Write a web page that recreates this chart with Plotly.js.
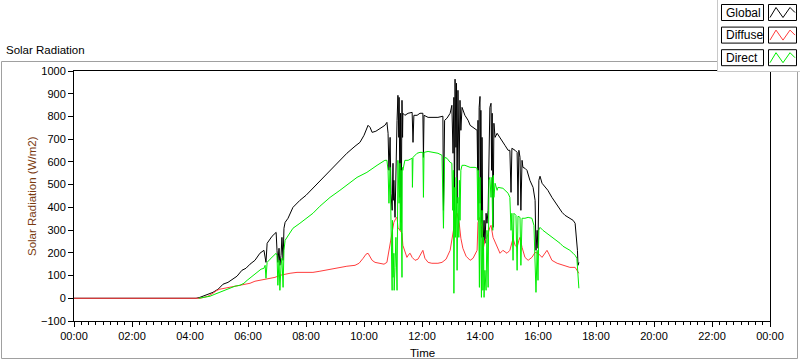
<!DOCTYPE html>
<html>
<head>
<meta charset="utf-8">
<script src="https://cdn.plot.ly/plotly-3.0.1.min.js"></script>
<style>
  html, body { margin: 0; padding: 0; background: #ffffff; }
  #chart { width: 800px; height: 361px; }
</style>
</head>
<body>
<div id="chart"></div>
<script>
// ---------------- DATA (time in hours of day, W/m2) ----------------
const seriesNames = ["Global", "Diffuse", "Direct"];

const globalHours = [0, 4.00, 4.21, 4.34, 4.52, 4.69, 4.79, 4.97, 5.14, 5.31, 5.45, 5.62, 5.79, 5.93, 6.07, 6.24, 6.41, 6.55, 6.62, 6.66, 6.83, 6.97, 7.00, 7.03, 7.07, 7.10, 7.14, 7.17, 7.21, 7.24, 7.28, 7.38, 7.55, 7.79, 8.00, 8.24, 8.48, 8.83, 9.10, 9.41, 9.69, 9.86, 10.00, 10.14, 10.21, 10.28, 10.41, 10.55, 10.72, 10.79,
  10.83, 10.86, 10.90, 10.93, 10.97, 11.00, 11.01, 11.03, 11.07, 11.10, 11.14, 11.17, 11.20, 11.21, 11.24, 11.26, 11.28, 11.31, 11.33, 11.34, 11.41,
  11.52, 11.66, 11.69, 11.72, 11.83, 11.93, 12.03, 12.05, 12.07, 12.21, 12.38, 12.55, 12.72, 12.74, 12.78, 12.86, 12.97, 13.03,
  13.07, 13.10, 13.12, 13.14, 13.17, 13.19, 13.21, 13.24, 13.28, 13.31, 13.34, 13.38,
  13.48, 13.59, 13.66, 13.76, 13.90,
  13.92, 13.93, 13.95, 13.97, 14.00, 14.01, 14.03, 14.06, 14.07, 14.10, 14.14, 14.17, 14.21, 14.24, 14.28, 14.31, 14.34, 14.38, 14.40, 14.42, 14.45, 14.48, 14.52, 14.59,
  14.69, 14.76, 14.86, 14.97, 15.03, 15.07, 15.10, 15.21, 15.28, 15.31, 15.34, 15.38, 15.41, 15.45, 15.48, 15.55, 15.62, 15.72, 15.83, 15.90, 15.93, 15.97, 16.00, 16.03, 16.07, 16.14, 16.24, 16.34, 16.48, 16.59, 16.69, 16.83, 16.93, 17.10, 17.21, 17.28, 17.31, 17.34, 17.36, 17.38, 17.41];
const globalValues = [0, 0, 0, 4, 13, 22, 26, 40, 62, 70, 84, 97, 123, 132, 150, 167, 198, 211, 158, 242, 273, 290, 211, 158, 220, 145, 189, 268, 167, 308, 334, 352, 400, 431, 453, 484, 515, 563, 598, 638, 669, 686, 717, 761, 752, 730, 735, 748, 761, 774,
  726, 563, 708, 462, 387, 594, 431, 519, 356, 638, 783, 893, 708, 884, 444, 814, 334, 871, 708, 814, 805,
  814, 818, 686, 805, 805, 814, 814, 620, 805, 796, 796, 796, 801, 387, 783, 792, 814, 849,
  638, 884, 387, 964, 664, 946, 418, 915, 563, 871, 739, 840,
  805, 783, 761, 752, 739,
  563, 783, 418, 840, 888, 418, 827, 268, 708, 211, 343, 242, 374, 330, 387, 708, 840, 858, 563, 814, 312, 770, 708, 726,
  708, 695, 673, 651, 651, 466, 660, 651, 642, 409, 651, 620, 387, 607, 576, 572, 563, 519, 488, 431, 211, 299, 220, 519, 537, 506, 488, 475, 444, 422, 400, 378, 365, 352, 343, 330, 290, 264, 211, 145, 158];

const diffuseHours = [0, 4.21, 4.34, 4.48, 4.62, 4.79, 4.93, 5.03, 5.21, 5.38, 5.55, 5.72, 5.90, 6.07, 6.24, 6.41, 6.59, 6.76, 6.93, 7.10, 7.28, 7.45, 7.69, 7.97, 8.24, 8.48, 8.83, 9.17, 9.41, 9.69, 9.83, 9.97, 10.07, 10.14, 10.21, 10.28, 10.38, 10.55, 10.69, 10.79, 10.86, 10.90, 10.97, 11.03, 11.10, 11.14, 11.17, 11.24, 11.31, 11.34, 11.41, 11.48, 11.55, 11.59, 11.66, 11.76, 11.86, 11.97, 12.03, 12.10, 12.21, 12.34, 12.55, 12.69, 12.83, 12.97, 13.03, 13.10, 13.17, 13.21, 13.28, 13.34, 13.41, 13.52, 13.66, 13.76, 13.86, 13.90, 13.93, 14.00, 14.07, 14.10, 14.17, 14.24, 14.34, 14.38, 14.45, 14.59, 14.69, 14.79, 14.93, 15.03, 15.10, 15.14, 15.21, 15.28, 15.34, 15.38, 15.45, 15.55, 15.66, 15.79, 15.90, 16.00, 16.14, 16.24, 16.31, 16.38, 16.48, 16.66, 16.86, 17.10, 17.28, 17.34, 17.41];
const diffuseValues = [0, 0, 0, 4, 9, 22, 35, 40, 44, 48, 53, 57, 62, 66, 75, 79, 84, 88, 92, 101, 106, 110, 114, 114, 114, 119, 128, 136, 141, 145, 154, 176, 194, 198, 185, 167, 158, 154, 150, 158, 211, 242, 299, 334, 352, 356, 312, 299, 286, 233, 202, 180, 194, 198, 180, 167, 172, 194, 211, 176, 158, 154, 154, 158, 172, 211, 264, 321, 365, 374, 334, 264, 220, 185, 167, 176, 198, 211, 334, 356, 312, 211, 255, 268, 312, 321, 268, 224, 198, 211, 198, 211, 255, 264, 233, 224, 255, 268, 224, 180, 167, 180, 202, 198, 180, 198, 211, 194, 167, 154, 145, 136, 136, 123, 110];

const directHours = [4.30, 4.52, 4.69, 4.86, 5.03, 5.21, 5.38, 5.55, 5.72, 5.86, 5.97, 6.14, 6.31, 6.45, 6.55, 6.59, 6.62, 6.66, 6.76, 6.90, 6.97, 7.00, 7.03, 7.07, 7.10, 7.14, 7.17, 7.21, 7.24, 7.28, 7.38, 7.45, 7.55, 7.79, 8.00, 8.24, 8.48, 8.83, 9.17, 9.45, 9.76, 10.10, 10.28, 10.45, 10.72, 10.79,
  10.83, 10.86, 10.90, 10.93, 10.97, 10.98, 11.00, 11.03, 11.04, 11.07, 11.10, 11.14, 11.15, 11.17, 11.21, 11.24, 11.25, 11.28, 11.31, 11.32, 11.34, 11.41,
  11.52, 11.66, 11.67, 11.69, 11.83, 11.93, 12.03, 12.05, 12.07, 12.21, 12.38, 12.55, 12.69, 12.74, 12.78, 12.86, 12.97, 13.03,
  13.06, 13.08, 13.10, 13.13, 13.15, 13.18, 13.21, 13.24, 13.27, 13.29, 13.31, 13.34, 13.38,
  13.48, 13.66, 13.83, 13.90, 13.91,
  13.93, 13.94, 13.96, 13.98, 14.00, 14.03, 14.05, 14.07, 14.10, 14.12, 14.14, 14.17, 14.21, 14.24, 14.28, 14.31, 14.34, 14.38, 14.41, 14.44, 14.46, 14.48, 14.52, 14.59, 14.62,
  14.79, 14.97, 15.03, 15.07, 15.10, 15.14, 15.17, 15.24, 15.28, 15.31, 15.38, 15.41, 15.45, 15.55, 15.66, 15.79, 15.86, 15.90, 15.93, 15.97, 16.00, 16.03, 16.07, 16.17, 16.31, 16.41, 16.52, 16.62, 16.76, 16.86, 17.00, 17.10, 17.21, 17.28, 17.34, 17.38, 17.41];
const directValues = [0, 4, 9, 18, 26, 35, 44, 53, 57, 66, 79, 97, 114, 128, 132, 145, 88, 158, 172, 189, 198, 189, 57, 167, 35, 145, 176, 48, 211, 255, 273, 290, 308, 330, 352, 374, 405, 444, 475, 502, 532, 554, 572, 585, 607, 607,
  563, 418, 576, 268, 35, 343, 92, 198, 35, 136, 268, 35, 519, 607, 418, 594, 299, 563, 92, 576, 563, 607,
  607, 616, 488, 620, 638, 642, 642, 444, 642, 646, 642, 638, 629, 308, 620, 616, 598, 594,
  387, 563, 22, 488, 268, 532, 123, 444, 268, 519, 343, 563, 585,
  585, 576, 576, 572, 488,
  343, 563, 180, 48, 532, 123, 4, 387, 35, 268, 4, 123, 35, 299, 48, 519, 532, 444, 532, 299, 541, 444, 506, 475, 488,
  484, 462, 444, 299, 374, 167, 374, 365, 123, 361, 356, 145, 352, 352, 356, 352, 321, 167, 26, 211, 79, 299, 312, 299, 286, 273, 264, 255, 242, 229, 220, 211, 198, 189, 176, 101, 44];

const xTickHours = [0, 2, 4, 6, 8, 10, 12, 14, 16, 18, 20, 22, 24];
const xTickLabels = ["00:00", "02:00", "04:00", "06:00", "08:00", "10:00", "12:00", "14:00", "16:00", "18:00", "20:00", "22:00", "00:00"];
const seriesColors = ["#000000", "#ff3c3c", "#00ee00"];

// ---------------- LAYOUT HELPERS (pixel -> paper) ----------------
const W = 800, H = 361, ML = 74, MR = 30, MT = 71, MB = 40;
const PW = W - ML - MR, PH = H - MT - MB;
const px = x => (x - ML) / PW;
const py = y => (H - MB - y) / PH;
const FONT = "Liberation Sans, Arial, sans-serif";

const traces = [
  {x: globalHours, y: globalValues, name: seriesNames[0], color: seriesColors[0]},
  {x: diffuseHours, y: diffuseValues, name: seriesNames[1], color: seriesColors[1]},
  {x: directHours, y: directValues, name: seriesNames[2], color: seriesColors[2]}
].map(s => ({
  type: "scatter", mode: "lines", x: s.x, y: s.y, name: s.name,
  line: {color: s.color, width: 1}, hoverinfo: "skip"
}));

const shapes = [
  // outer gray frame
  {type: "rect", xref: "paper", yref: "paper", x0: px(1.5), x1: px(797.5), y0: py(61.5), y1: py(358.5),
   line: {color: "#a0a0a0", width: 1}, layer: "below"},
  // legend panel
  {type: "rect", xref: "paper", yref: "paper", x0: px(717.5), x1: px(801), y0: py(-1), y1: py(71.5),
   line: {color: "#c8c8c8", width: 1}, fillcolor: "#ffffff", layer: "above"}
];
const annotations = [
  {text: "Solar Radiation", xref: "paper", yref: "paper", x: px(4), y: py(50), xanchor: "left", yanchor: "middle",
   showarrow: false, font: {family: FONT, size: 11.5, color: "#000"}},
  {text: "Solar Radiation (W/m2)", xref: "paper", yref: "paper", x: px(32), y: py(196), textangle: -90,
   xanchor: "center", yanchor: "middle", showarrow: false, font: {family: FONT, size: 11.5, color: "#7a3a10"}},
  {text: "Time", xref: "paper", yref: "paper", x: px(422), y: py(353), xanchor: "center", yanchor: "middle",
   showarrow: false, font: {family: FONT, size: 11.5, color: "#000"}}
];
seriesNames.forEach((name, i) => {
  const y0 = 4.5 + 22.6 * i, y1 = y0 + 16;
  shapes.push({type: "rect", xref: "paper", yref: "paper", x0: px(721.5), x1: px(763.5), y0: py(y0), y1: py(y1),
    line: {color: "#000", width: 1}, fillcolor: "#fff", layer: "above"});
  shapes.push({type: "rect", xref: "paper", yref: "paper", x0: px(768.5), x1: px(796.5), y0: py(y0), y1: py(y1),
    line: {color: "#000", width: 1}, fillcolor: "#fff", layer: "above"});
  const pts = [[770, y1 - 3], [776, y0 + 3], [783, y1 - 3], [790, y0 + 3], [795, y0 + 8]];
  shapes.push({type: "path", xref: "paper", yref: "paper", layer: "above",
    path: "M" + pts.map(p => px(p[0]) + "," + py(p[1])).join(" L"),
    line: {color: seriesColors[i], width: 1}});
  annotations.push({text: name, xref: "paper", yref: "paper", x: px(723.5), y: py((y0 + y1) / 2),
    xanchor: "left", yanchor: "middle", showarrow: false, font: {family: FONT, size: 12, color: "#000"}});
});

const layout = {
  width: W, height: H,
  margin: {l: ML, r: MR, t: MT, b: MB, pad: 0},
  paper_bgcolor: "#ffffff", plot_bgcolor: "#ffffff",
  showlegend: false,
  font: {family: FONT, size: 11, color: "#000"},
  xaxis: {
    range: [0, 24], tickmode: "array", tickvals: xTickHours, ticktext: xTickLabels,
    ticks: "outside", ticklen: 5, tickcolor: "#000", showgrid: false, zeroline: false,
    showline: true, linecolor: "#000", linewidth: 1, mirror: true,
    minor: {dtick: 0.25, tick0: 0, ticks: "outside", ticklen: 3, tickcolor: "#000", showgrid: false},
    tickfont: {family: FONT, size: 11, color: "#000"}, fixedrange: true
  },
  yaxis: {
    range: [-100, 1000], tickmode: "linear", tick0: 0, dtick: 100,
    ticks: "outside", ticklen: 5, tickcolor: "#000", showgrid: false, zeroline: false,
    showline: true, linecolor: "#000", linewidth: 1, mirror: true,
    tickfont: {family: FONT, size: 11, color: "#000"}, fixedrange: true
  },
  shapes: shapes,
  annotations: annotations
};

Plotly.newPlot("chart", traces, layout, {displayModeBar: false, staticPlot: true});
</script>
</body>
</html>
